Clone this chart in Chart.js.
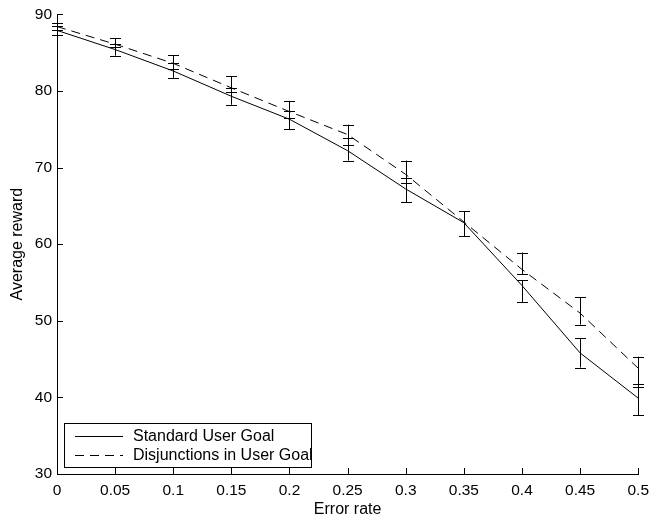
<!DOCTYPE html>
<html>
<head>
<title>Average reward vs error rate</title>
<style>
body { margin:0; background:#fff; }
#wrap { width:656px; height:523px; }
</style>
</head>
<body>
<script src="https://cdn.jsdelivr.net/npm/chart.js"></script>
<div id="wrap"><canvas id="myChart" width="656" height="523"></canvas></div>
<script>
    // values
    var errorRate = [0, 0.05, 0.1, 0.15, 0.2, 0.25, 0.3, 0.35, 0.4, 0.45, 0.5]
    var standard     = [87.9, 85.4, 82.6, 79.3, 76.3, 72.2, 67.2, 62.8, 54.6, 45.8, 39.9]
    var standardLow  = [87.3, 84.6, 81.7, 78.2, 75.0, 70.9, 65.5, 61.0, 52.4, 43.9, 37.7]
    var standardHigh = [88.5, 86.1, 83.7, 80.4, 77.4, 73.8, 68.6, 64.3, 55.3, 47.7, 41.8]
    var disjunct     = [88.4, 86.1, 83.6, 80.4, 77.3, 74.3, 69.1, 62.9, 56.7, 51.0, 43.8]
    var disjunctLow  = [87.9, 85.7, 82.9, 79.9, 76.4, 73.0, 68.0, 61.0, 56.1, 49.5, 41.4]
    var disjunctHigh = [88.9, 86.9, 84.7, 81.9, 78.7, 75.6, 70.9, 64.3, 58.9, 53.1, 45.3]
    var xTicks = [0, 0.05, 0.1, 0.15, 0.2, 0.25, 0.3, 0.35, 0.4, 0.45, 0.5]
    var yTicks = [30, 40, 50, 60, 70, 80, 90]

    function pts(ys) {
        return errorRate.map((x, i) => ({ x: x, y: ys[i] }))
    }

    const FONT = "'Liberation Sans', Arial, sans-serif"

    // error bars, inward ticks and boxed legend (matlab look)
    const extras = {
        id: 'extras',
        afterDatasetsDraw(chart) {
            const ctx = chart.ctx
            const xs = chart.scales.x, ys = chart.scales.y
            const bars = [[disjunctLow, disjunctHigh], [standardLow, standardHigh]]
            ctx.save()
            ctx.strokeStyle = '#000'
            ctx.lineWidth = 1
            ctx.setLineDash([])
            bars.forEach(b => {
                errorRate.forEach((x, i) => {
                    const px = Math.round(xs.getPixelForValue(x)) + 0.5
                    const lo = ys.getPixelForValue(b[0][i])
                    const hi = ys.getPixelForValue(b[1][i])
                    ctx.beginPath()
                    ctx.moveTo(px, lo); ctx.lineTo(px, hi)
                    ctx.moveTo(px - 5.5, Math.round(lo) + 0.5); ctx.lineTo(px + 5.5, Math.round(lo) + 0.5)
                    ctx.moveTo(px - 5.5, Math.round(hi) + 0.5); ctx.lineTo(px + 5.5, Math.round(hi) + 0.5)
                    ctx.stroke()
                })
            })
            // inward ticks
            const a = chart.chartArea
            ctx.beginPath()
            xTicks.forEach(v => {
                const px = Math.round(xs.getPixelForValue(v)) + 0.5
                ctx.moveTo(px, a.bottom); ctx.lineTo(px, a.bottom - 6)
            })
            yTicks.forEach(v => {
                const py = Math.round(ys.getPixelForValue(v)) + 0.5
                ctx.moveTo(a.left, py); ctx.lineTo(a.left + 6, py)
            })
            ctx.stroke()

            // legend box
            const bx = 64.5, by = 423.5, bw = 247, bh = 44
            ctx.fillStyle = '#fff'
            ctx.fillRect(bx, by, bw, bh)
            ctx.strokeRect(bx, by, bw, bh)
            ctx.font = '16px ' + FONT
            ctx.textBaseline = 'middle'
            ctx.fillStyle = '#000'
            chart.data.datasets.slice().reverse().forEach((ds, i) => {
                const ly = Math.round(by + 12 + i * 19.5) + 0.5
                ctx.setLineDash(ds.borderDash || [])
                ctx.beginPath()
                ctx.moveTo(75, ly); ctx.lineTo(123, ly)
                ctx.stroke()
                ctx.setLineDash([])
                ctx.fillText(ds.label, 133, ly)
            })
            ctx.restore()
        }
    }

    const ctx = document.getElementById('myChart').getContext('2d')
    const myChart = new Chart(ctx, {
        type: 'line',
        data: {
            datasets: [{
                label: 'Disjunctions in User Goal',
                data: pts(disjunct),
                borderColor: '#000',
                borderWidth: 1,
                borderDash: [9, 6],
                pointRadius: 0,
                tension: 0
            }, {
                label: 'Standard User Goal',
                data: pts(standard),
                borderColor: '#000',
                borderWidth: 1,
                pointRadius: 0,
                tension: 0
            }]
        },
        plugins: [extras],
        options: {
            responsive: false,
            animation: false,
            layout: { padding: { left: 0, top: 12, right: 13, bottom: 0 } },
            plugins: {
                legend: { display: false },
                tooltip: { enabled: false }
            },
            scales: {
                x: {
                    type: 'linear',
                    min: 0, max: 0.5,
                    afterBuildTicks: s => { s.ticks = xTicks.map(v => ({ value: v })) },
                    afterFit: s => { s.height = 49 },
                    grid: { display: false, drawTicks: false },
                    border: { display: true, color: '#000', width: 1 },
                    ticks: {
                        color: '#000', font: { family: FONT, size: 15.5 }, padding: 7,
                        maxRotation: 0, autoSkip: false,
                        callback: v => String(parseFloat(v.toFixed(2)))
                    },
                    title: {
                        display: true, text: 'Error rate', color: '#000',
                        font: { family: FONT, size: 16 }, padding: { top: 0, bottom: 4 }
                    }
                },
                y: {
                    min: 30, max: 90,
                    afterBuildTicks: s => { s.ticks = yTicks.map(v => ({ value: v })) },
                    afterFit: s => { s.width = 57 },
                    grid: { display: false, drawTicks: false },
                    border: { display: true, color: '#000', width: 1 },
                    ticks: { color: '#000', font: { family: FONT, size: 15.5 }, padding: 5 },
                    title: {
                        display: true, text: 'Average reward', color: '#000',
                        font: { family: FONT, size: 16 }, padding: { top: 8, bottom: 0 }
                    }
                }
            }
        }
    })
</script>
</body>
</html>
